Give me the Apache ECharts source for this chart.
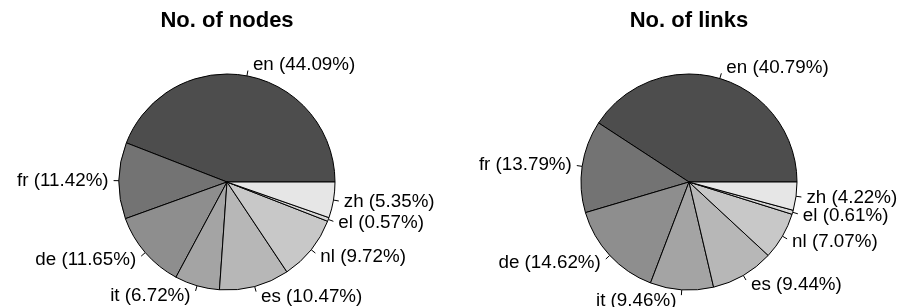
<!DOCTYPE html>
<html>
<head>
<meta charset="utf-8">
<script src="https://cdn.jsdelivr.net/npm/echarts@6/dist/echarts.min.js"></script>
<style>
  html, body { margin: 0; padding: 0; background: #fff; }
  #chart { width: 901px; height: 307px; }
</style>
</head>
<body>
<div id="chart"></div>
<script>
const languages = ['en', 'fr', 'de', 'it', 'es', 'nl', 'el', 'zh'];
const nodeShares = [44.09, 11.42, 11.65, 6.72, 10.47, 9.72, 0.57, 5.35];
const linkShares = [40.79, 13.79, 14.62, 9.46, 9.44, 7.07, 0.61, 4.22];
// R gray.colors(8)
const greys = ['#4d4d4d', '#737373', '#8e8e8e', '#a4a4a4', '#b7b7b7', '#c8c8c8', '#d7d7d7', '#e6e6e6'];

const FONT = 'Liberation Sans, Arial, sans-serif';
const R = 108;

const toData = (values) => values.map((v, i) => ({ name: languages[i], value: v }));

// push labels a bit further out along the radius, like R's pie()
function rLabelLayout(params) {
  const pts = params.labelLinePoints;
  if (!pts) return {};
  const vx = pts[1][0] - pts[0][0];
  const vy = pts[1][1] - pts[0][1];
  const len = Math.hypot(vx, vy) || 1;
  return { dy: (vy / len) * 5.4, labelLinePoints: pts };
}

function pieSeries(name, values, cx) {
  return {
    name,
    type: 'pie',
    center: [cx, 182],
    radius: R,
    startAngle: 0,
    clockwise: false,
    avoidLabelOverlap: false,
    silent: true,
    itemStyle: { borderColor: '#000', borderWidth: 1 },
    label: {
      position: 'outside',
      formatter: (p) => `${p.name} (${p.value.toFixed(2)}%)`,
      fontFamily: FONT,
      fontSize: 18.8,
      color: '#000',
      distanceToLabelLine: 5
    },
    labelLine: {
      show: true,
      length: 5.4,
      length2: 0,
      lineStyle: { color: '#000', width: 1 }
    },
    labelLayout: rLabelLayout,
    emphasis: { disabled: true },
    data: toData(values)
  };
}

const titleStyle = { fontFamily: FONT, fontSize: 22, fontWeight: 'bold', color: '#000' };

const chart = echarts.init(document.getElementById('chart'));
chart.setOption({
  animation: false,
  color: greys,
  title: [
    { text: 'No. of nodes', left: 227, top: 10, textAlign: 'center', padding: 0, textStyle: titleStyle },
    { text: 'No. of links', left: 689, top: 10, textAlign: 'center', padding: 0, textStyle: titleStyle }
  ],
  series: [
    pieSeries('No. of nodes', nodeShares, 227),
    pieSeries('No. of links', linkShares, 689)
  ]
});
</script>
</body>
</html>
